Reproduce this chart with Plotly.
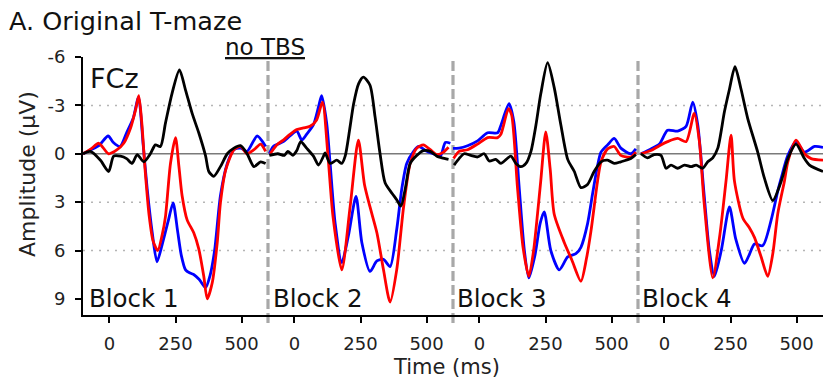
import plotly.graph_objects as go

# ---------------- data (ms within block, amplitude in µV) ----------------
block_names = ["Block 1", "Block 2", "Block 3", "Block 4"]
block_offset_ms = 700
tick_ms = [0, 250, 500]
y_ticks = [-6, -3, 0, 3, 6, 9]

# Block 1
b1_blue_ms = [-100, -70, -40, -5, 15, 40, 65, 90, 110, 128, 143, 162, 180, 200, 222, 241, 258, 272, 288, 305, 320, 340, 364, 380, 398, 420, 446, 471, 496, 521, 559, 591]
b1_blue_uv = [0.0, -0.25, -0.5, -1.1, -0.7, -0.45, -1.3, -2.2, -3.5, -0.5, 2.2, 4.9, 6.7, 5.6, 4.2, 3.05, 4.8, 6.3, 7.2, 7.4, 7.5, 7.8, 8.3, 7.6, 6.0, 2.6, 0.6, -0.25, -0.35, -0.15, -1.1, -0.45]
b1_red_ms = [-100, -70, -40, -3, 29, 54, 80, 100, 111, 122, 135, 150, 165, 183, 200, 212, 231, 250, 263, 275, 294, 319, 338, 357, 370, 389, 408, 420, 440, 471, 496, 521, 547, 572, 591]
b1_red_uv = [0.0, -0.3, -0.65, 0.0, -0.25, -0.65, -1.6, -2.8, -3.6, -2.0, 1.0, 3.8, 5.4, 6.0, 5.0, 3.9, 0.6, -1.0, 0.8, 2.6, 4.1, 4.9, 5.9, 7.6, 9.0, 8.0, 5.5, 3.05, 1.0, -0.25, -0.45, 0.0, -0.25, -0.6, -0.15]
b1_black_ms = [-100, -72, -34, -3, 16, 42, 65, 86, 105, 130, 155, 174, 193, 212, 237, 265, 288, 313, 338, 364, 376, 395, 420, 446, 471, 496, 521, 547, 572, 591]
b1_black_uv = [0.0, -0.15, 0.4, 1.1, 0.15, 0.15, 0.3, 0.6, 0.05, 0.5, 0.0, -0.55, -0.45, -1.9, -3.75, -5.2, -3.95, -2.5, -1.3, 0.15, 1.1, 1.4, 0.8, 0.0, -0.35, -0.5, 0.0, 0.8, 0.5, 0.6]

# Block 2
b2_blue_ms = [-95, -80, -42, -17, 9, 28, 46, 72, 91, 103, 122, 135, 154, 179, 204, 233, 255, 286, 312, 337, 362, 387, 406, 425, 451, 469, 501, 525, 552, 571, 590]
b2_blue_uv = [0.0, -0.45, -0.75, -1.1, -1.4, -0.85, -1.2, -1.8, -2.9, -3.6, -1.9, 0.6, 4.3, 6.75, 5.1, 2.65, 5.5, 7.3, 6.65, 6.55, 7.0, 4.7, 2.2, 0.6, -0.15, -0.45, -0.15, 0.0, 0.15, -0.7, -0.65]
b2_red_ms = [-92, -67, -42, -17, 9, 34, 59, 84, 106, 127, 146, 179, 211, 242, 265, 286, 312, 337, 362, 387, 413, 438, 463, 488, 514, 539, 564, 583]
b2_red_uv = [0.0, -0.55, -0.85, -1.2, -1.5, -1.6, -1.7, -2.1, -3.2, 0.15, 3.9, 7.2, 3.25, -0.85, 1.9, 3.3, 4.9, 7.2, 9.2, 7.2, 3.3, 0.6, -0.35, -0.55, -0.25, 0.05, -0.1, -0.4]
b2_black_ms = [-95, -63, -38, -25, -6, 9, 24, 46, 72, 91, 110, 116, 135, 160, 179, 192, 209, 224, 243, 261, 286, 305, 324, 343, 369, 387, 403, 419, 438, 463, 488, 514, 539, 558, 583]
b2_black_uv = [0.1, 0.0, 0.1, -0.15, 0.1, -0.2, -0.75, -0.35, 0.15, 0.7, 0.15, -0.05, 0.6, 0.4, 0.6, 0.15, -1.5, -3.1, -4.35, -4.75, -4.25, -2.3, 0.0, 1.8, 2.45, 2.85, 3.25, 2.2, 0.6, 0.1, -0.2, -0.15, 0.15, 0.25, 0.35]

# Block 3
b3_blue_ms = [-100, -77, -45, -7, 31, 69, 81, 112, 130, 150, 170, 187, 210, 230, 245, 270, 302, 334, 365, 384, 409, 428, 445, 460, 485, 510, 535, 573, 592]
b3_blue_uv = [-0.33, -0.35, -0.5, -0.8, -1.3, -1.3, -1.75, -3.1, -2.0, 2.0, 6.0, 7.7, 6.3, 4.3, 3.6, 6.0, 7.2, 6.4, 6.2, 5.8, 4.35, 2.5, 0.9, -0.1, -0.55, -0.95, -0.35, 0.0, -0.3]
b3_red_ms = [-98, -77, -45, -7, 31, 69, 81, 110, 122, 144, 165, 187, 205, 220, 232, 251, 268, 283, 321, 350, 384, 405, 422, 447, 460, 485, 510, 535, 573, 592]
b3_red_uv = [0.3, -0.15, -0.25, -0.6, -1.0, -1.0, -1.2, -2.8, -2.4, 2.1, 5.8, 7.6, 6.0, 3.7, 1.7, -1.35, 1.0, 3.75, 5.5, 6.6, 7.9, 6.5, 4.8, 1.7, 0.5, -0.3, -0.45, 0.1, 0.2, -0.1]
b3_black_ms = [-96, -77, -58, -33, -7, 18, 37, 62, 81, 119, 138, 157, 176, 195, 214, 232, 258, 283, 308, 334, 359, 384, 409, 434, 460, 485, 510, 535, 573, 592]
b3_black_uv = [0.7, 0.3, 0.0, 0.1, 0.2, 0.0, 0.45, 0.35, 0.6, 0.15, 0.6, 0.8, 0.6, -0.15, -1.8, -3.7, -5.65, -4.1, -1.8, 0.35, 1.1, 2.1, 1.9, 1.1, 0.5, 0.4, 0.6, 0.5, 0.3, 0.05]

# Block 4
b4_blue_ms = [-89, -51, -19, 12, 50, 82, 107, 126, 150, 170, 189, 215, 246, 270, 303, 320, 341, 372, 404, 429, 442, 467, 498, 530, 568, 600]
b4_blue_uv = [0.0, -0.3, -0.6, -1.45, -1.4, -1.7, -3.2, -1.8, 2.5, 6.0, 7.6, 6.0, 3.3, 5.3, 6.8, 6.3, 5.6, 5.7, 4.1, 2.3, 1.5, 0.1, -0.75, -0.1, -0.45, -0.4]
b4_red_ms = [-89, -51, -19, 12, 50, 82, 113, 132, 150, 183, 210, 233, 252, 265, 297, 322, 341, 366, 391, 410, 429, 454, 467, 498, 530, 555, 600]
b4_red_uv = [0.0, -0.2, -0.5, -0.75, -0.95, -0.75, -2.5, -0.8, 3.0, 7.7, 5.0, 1.7, -1.15, 1.7, 4.0, 4.6, 5.2, 6.4, 7.6, 6.2, 3.7, 1.7, 0.5, -0.85, 0.0, 0.3, 0.4]
b4_black_ms = [-89, -64, -39, -13, 6, 25, 50, 76, 101, 120, 145, 164, 183, 202, 227, 246, 267, 290, 315, 353, 378, 410, 442, 467, 498, 530, 549, 600]
b4_black_uv = [0.0, 0.25, 0.05, 0.1, 0.9, 0.7, 0.9, 0.7, 0.8, 0.7, 0.9, 0.5, 0.25, -0.35, -2.6, -4.0, -5.4, -4.0, -2.2, -0.1, 1.5, 2.9, 1.7, 0.3, -0.6, 0.3, 0.7, 1.1]

blue_ms = [b1_blue_ms, b2_blue_ms, b3_blue_ms, b4_blue_ms]
blue_uv = [b1_blue_uv, b2_blue_uv, b3_blue_uv, b4_blue_uv]
red_ms = [b1_red_ms, b2_red_ms, b3_red_ms, b4_red_ms]
red_uv = [b1_red_uv, b2_red_uv, b3_red_uv, b4_red_uv]
black_ms = [b1_black_ms, b2_black_ms, b3_black_ms, b4_black_ms]
black_uv = [b1_black_uv, b2_black_uv, b3_black_uv, b4_black_uv]

# ---------------- figure ----------------
FONT = "DejaVu Sans"
W, H = 823, 379
ML, MR, MT, MB = 83, 0, 57, 64
PW, PH = W - ML - MR, H - MT - MB


def px_x(px):
    return (px - ML) / PW


def px_y(py):
    return (H - MB - py) / PH


def concat(ms_blocks, uv_blocks):
    xs, ys = [], []
    for i, (ms, uv) in enumerate(zip(ms_blocks, uv_blocks)):
        xs += [m + i * block_offset_ms for m in ms] + [None]
        ys += list(uv) + [None]
    return xs, ys


fig = go.Figure()
for ms_b, uv_b, col in [(blue_ms, blue_uv, "#0000ff"),
                        (red_ms, red_uv, "#ff0000"),
                        (black_ms, black_uv, "#000000")]:
    xs, ys = concat(ms_b, uv_b)
    fig.add_trace(go.Scatter(x=xs, y=ys, mode="lines", connectgaps=False,
                             line=dict(color=col, width=2.8, shape="spline", smoothing=0.7),
                             hoverinfo="skip", showlegend=False))

tickvals, ticktext = [], []
for i in range(len(block_names)):
    for t in tick_ms:
        tickvals.append(t + i * block_offset_ms)
        ticktext.append(str(t))

shapes = []
for g in [-3, 3, 6]:
    shapes.append(dict(type="line", xref="paper", yref="y", x0=0, x1=1, y0=g, y1=g,
                       line=dict(color="#b5b5b5", width=1.5, dash="2px,6px"), layer="below"))
shapes.append(dict(type="line", xref="paper", yref="y", x0=0, x1=1, y0=0, y1=0,
                   line=dict(color="#7a7a7a", width=1.6), layer="below"))
for i in range(1, len(block_names)):
    xb = i * block_offset_ms - 100
    shapes.append(dict(type="line", xref="x", yref="paper", x0=xb, x1=xb,
                       y0=px_y(323), y1=px_y(59),
                       line=dict(color="#a8a8a8", width=3.2, dash="10px,4px"), layer="below"))

ann = []
ann.append(dict(text="A. Original T-maze", x=px_x(7), y=px_y(21), xanchor="left", yanchor="middle",
                font=dict(size=25.5, color="#111111", family=FONT)))
ann.append(dict(text="<u>no TBS</u>", x=px_x(265), y=px_y(47), xanchor="center", yanchor="middle",
                font=dict(size=23, color="#111111", family=FONT)))
ann.append(dict(text="FCz", x=px_x(88), y=px_y(78), xanchor="left", yanchor="middle",
                font=dict(size=27, color="#111111", family=FONT)))
for i, (name, bx) in enumerate(zip(block_names, [87, 271, 455, 640])):
    ann.append(dict(text=name, x=px_x(bx), y=px_y(298), xanchor="left", yanchor="middle",
                    font=dict(size=24.5, color="#111111", family=FONT)))
ann.append(dict(text="Amplitude (µV)", x=px_x(27), y=px_y(174), xanchor="center", yanchor="middle",
                textangle=-90, font=dict(size=22, color="#222222", family=FONT)))
ann.append(dict(text="Time (ms)", x=px_x(446), y=px_y(367), xanchor="center", yanchor="middle",
                font=dict(size=21, color="#222222", family=FONT)))
for a in ann:
    a.update(xref="paper", yref="paper", showarrow=False)

fig.update_layout(
    width=W, height=H,
    margin=dict(l=ML, r=MR, t=MT, b=MB, pad=0),
    paper_bgcolor="white", plot_bgcolor="white",
    font=dict(family=FONT, color="#222222"),
    shapes=shapes, annotations=ann,
    xaxis=dict(range=[-100, 4 * block_offset_ms - 100], tickvals=tickvals, ticktext=ticktext,
               showgrid=False, zeroline=False, showline=True, linecolor="#000000", linewidth=2,
               ticks="outside", ticklen=6, tickwidth=2, tickcolor="#000000",
               tickfont=dict(size=18, family=FONT, color="#222222"), ticklabelstandoff=5),
    yaxis=dict(range=[10, -6], tickvals=y_ticks, ticktext=[str(v) for v in y_ticks],
               showgrid=False, zeroline=False, showline=True, linecolor="#000000", linewidth=2,
               ticks="outside", ticklen=6, tickwidth=2, tickcolor="#000000",
               tickfont=dict(size=18, family=FONT, color="#222222"), ticklabelstandoff=6),
)

fig.write_html(
    "out.html",
    config={"displayModeBar": False},
    post_script="document.documentElement.style.margin='0';document.body.style.margin='0';"
                "document.body.style.padding='0';document.body.style.overflow='hidden';",
)
